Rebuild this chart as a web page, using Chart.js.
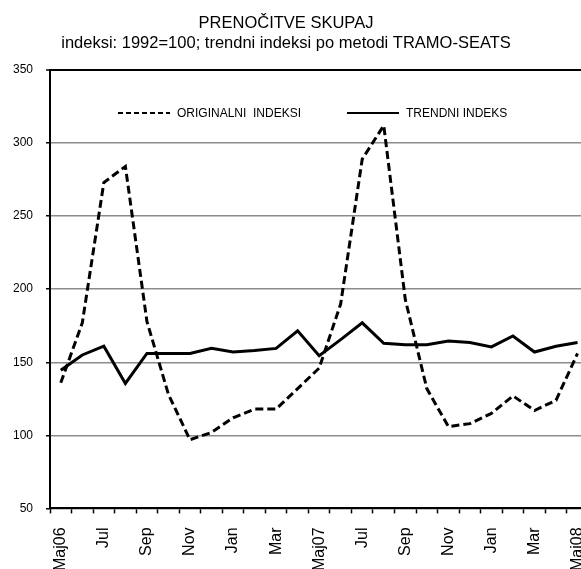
<!DOCTYPE html>
<html>
<head>
<meta charset="utf-8">
<script src="https://cdn.jsdelivr.net/npm/chart.js@4"></script>
<style>
  html, body { margin: 0; padding: 0; background: #fff; overflow: hidden; }
  canvas { display: block; }
</style>
</head>
<body>
<canvas id="chart" width="611" height="585"></canvas>
<script>
const months = ['Maj06', 'Jun', 'Jul', 'Avg', 'Sep', 'Okt', 'Nov', 'Dec', 'Jan', 'Feb', 'Mar', 'Apr',
  'Maj07', 'Jun', 'Jul', 'Avg', 'Sep', 'Okt', 'Nov', 'Dec', 'Jan', 'Feb', 'Mar', 'Apr', 'Maj08'];

const originalIndex = [136, 177, 273, 284, 178, 128, 97, 102, 112, 118, 118, 132,
  146, 190, 289, 312, 193, 132, 106, 108, 115, 127, 117, 124, 156];

const trendIndex = [144.5, 155, 161, 135.5, 156, 156, 156, 159.5, 157, 158, 159.5, 171.5,
  154.5, 165.5, 177, 163, 162, 162, 164.5, 163.5, 160.5, 168, 157, 161, 163.5];

const yTicks = [50, 100, 150, 200, 250, 300, 350];

const titleLines = ['PRENOČITVE SKUPAJ', 'indeksi: 1992=100; trendni indeksi po metodi TRAMO-SEATS'];

const FONT = "'Liberation Sans', Arial, sans-serif";

// the plot runs off the right edge of the picture, but the title is centred on the visible part
const titleCentre = {
  id: 'titleCentre',
  afterLayout(chart) {
    const t = chart.titleBlock;
    t.right = t.left + 572;
  }
};

// legend drawn inside the plot, like the excel original
const insideLegend = {
  id: 'insideLegend',
  afterDatasetsDraw(chart) {
    const ctx = chart.ctx;
    const y = chart.chartArea.top + 43;
    const starts = [118, 347];
    ctx.save();
    ctx.font = '12px ' + FONT;
    ctx.textBaseline = 'middle';
    ctx.fillStyle = '#000';
    chart.data.datasets.forEach((ds, i) => {
      const x = starts[i];
      ctx.beginPath();
      ctx.lineWidth = 2;
      ctx.strokeStyle = '#000';
      ctx.setLineDash(ds.borderDash ? [5, 3] : []);
      ctx.moveTo(x, y);
      ctx.lineTo(x + 52, y);
      ctx.stroke();
      ctx.setLineDash([]);
      ctx.fillText(ds.label, x + 59, y + 1);
    });
    ctx.restore();
  }
};

new Chart(document.getElementById('chart'), {
  type: 'line',
  data: {
    labels: months,
    datasets: [
      {
        label: 'ORIGINALNI  INDEKSI',
        data: originalIndex,
        borderColor: '#000',
        borderWidth: 3,
        borderDash: [8, 4],
        pointRadius: 0,
        tension: 0,
        fill: false
      },
      {
        label: 'TRENDNI INDEKS',
        data: trendIndex,
        borderColor: '#000',
        borderWidth: 3,
        pointRadius: 0,
        tension: 0,
        fill: false
      }
    ]
  },
  options: {
    responsive: false,
    animation: false,
    layout: { padding: { left: 0, right: 13, top: 0, bottom: 0 } },
    plugins: {
      legend: { display: false },
      tooltip: { enabled: false },
      title: {
        display: true,
        text: titleLines,
        color: '#000',
        font: { family: FONT, size: 16.5, weight: 'normal', lineHeight: 1.25 },
        padding: { top: 12.7, bottom: 16 }
      }
    },
    scales: {
      x: {
        offset: true,
        grid: {
          offset: true,
          drawOnChartArea: false,
          drawTicks: true,
          tickLength: 5,
          tickColor: '#000',
          tickWidth: 1.5
        },
        border: { color: '#000', width: 2 },
        ticks: {
          autoSkip: false,
          minRotation: 90,
          maxRotation: 90,
          padding: 14,
          color: '#000',
          font: { family: FONT, size: 16 },
          callback: function (value, index) {
            return index % 2 === 0 ? this.getLabelForValue(value) : '';
          }
        }
      },
      y: {
        min: yTicks[0],
        max: yTicks[yTicks.length - 1],
        afterBuildTicks: (axis) => {
          axis.ticks = yTicks.map(v => ({ value: v }));
        },
        grid: {
          color: (c) => c.tick && c.tick.value === 350 ? '#000' : '#8c8c8c',
          lineWidth: (c) => c.tick && c.tick.value === 350 ? 2 : 1.5,
          tickLength: 4,
          tickColor: '#000',
          tickWidth: 1.5
        },
        border: { color: '#000', width: 2 },
        ticks: {
          padding: 13,
          color: '#000',
          font: { family: FONT, size: 12 }
        }
      }
    }
  },
  plugins: [titleCentre, insideLegend]
});
</script>
</body>
</html>
